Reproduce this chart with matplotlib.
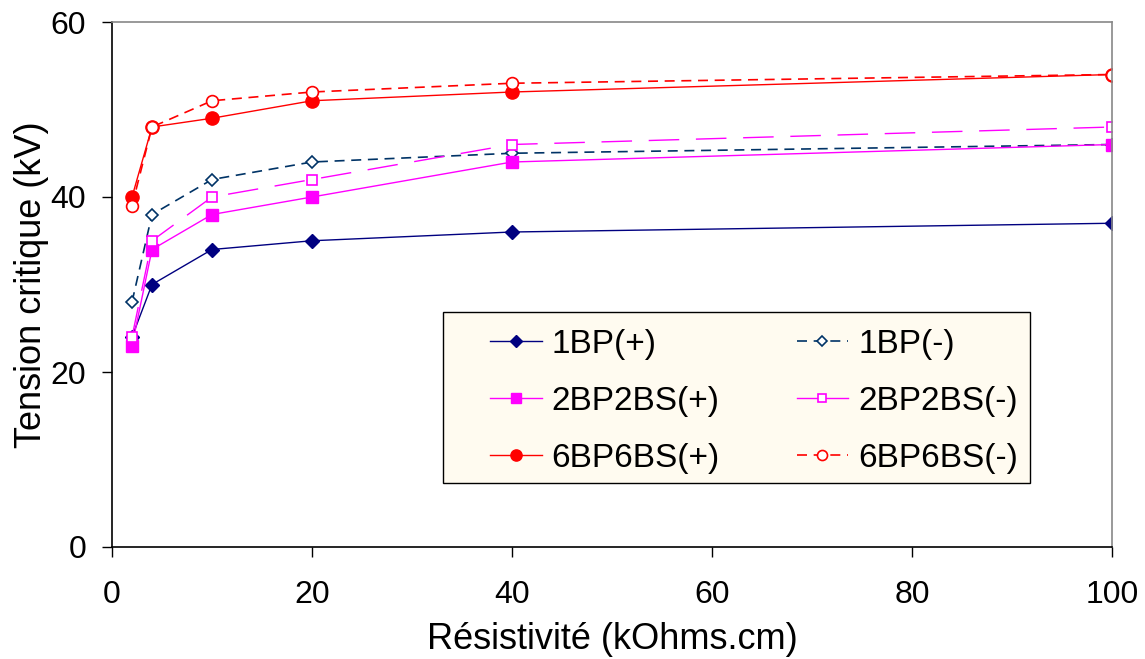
import matplotlib
matplotlib.use("Agg")
import matplotlib.pyplot as plt
from matplotlib.patches import Rectangle
from matplotlib.lines import Line2D

plt.rcParams['font.family'] = ['Liberation Sans', 'DejaVu Sans']

x = [2, 4, 10, 20, 40, 100]
bp1_pos = [24, 30, 34, 35, 36, 37]
bp1_neg = [28, 38, 42, 44, 45, 46]
bp2_pos = [23, 34, 38, 40, 44, 46]
bp2_neg = [24, 35, 40, 42, 46, 48]
bp6_pos = [40, 48, 49, 51, 52, 54]
bp6_neg = [39, 48, 51, 52, 53, 54]

labels = ['1BP(+)', '1BP(-)', '2BP2BS(+)', '2BP2BS(-)', '6BP6BS(+)', '6BP6BS(-)']
xticks = [0, 20, 40, 60, 80, 100]
yticks = [0, 20, 40, 60]

fig = plt.figure(figsize=(11.45, 6.59), dpi=100)
ax = fig.add_axes([112/1145, 112/659, 1000/1145, 525/659])

navy = '#000080'
dblue = '#003366'
mag = '#FF00FF'
red = '#FF0000'

h1, = ax.plot(x, bp1_pos, color=navy, lw=1, marker='D', ms=7.5, mfc=navy, mec=navy, label=labels[0])
h2, = ax.plot(x, bp1_neg, color=dblue, lw=1.2, ls=(0, (6, 4)), marker='D', ms=6.5, mfc='white', mec=dblue, mew=1.2, label=labels[1])
h3, = ax.plot(x, bp2_pos, color=mag, lw=1, marker='s', ms=8.5, mfc=mag, mec=mag, label=labels[2])
ax.plot(x, bp2_neg, color=mag, lw=1, ls=(0, (22, 12)), marker='s', ms=7.5, mfc='white', mec=mag, mew=1.2, label=labels[3])
h5, = ax.plot(x, bp6_pos, color=red, lw=1, marker='o', ms=9.5, mfc=red, mec=red, label=labels[4])
h6, = ax.plot(x, bp6_neg, color=red, lw=1.2, ls=(0, (6, 4)), marker='o', ms=8.5, mfc='white', mec=red, mew=1.2, label=labels[5])
h4 = Line2D([], [], color=mag, lw=1, ls='-', marker='s', ms=7.5, mfc='white', mec=mag, mew=1.2)

ax.set_xlim(0, 100)
ax.set_ylim(0, 60)
ax.set_xticks(xticks)
ax.set_yticks(yticks)
ax.tick_params(direction='out', length=7.5, width=1, labelsize=23)
ax.tick_params(axis='x', pad=16)
ax.tick_params(axis='y', pad=11)
ax.set_xlabel('Résistivité (kOhms.cm)', fontsize=26, labelpad=9)
ax.set_ylabel('Tension critique (kV)', fontsize=26, labelpad=1)
for s in ['left', 'bottom']:
    ax.spines[s].set_color('black')
    ax.spines[s].set_linewidth(1.2)
for s in ['top', 'right']:
    ax.spines[s].set_color('#888888')
    ax.spines[s].set_linewidth(1.2)

box = Rectangle((0.331, 0.122), 0.587, 0.326, transform=ax.transAxes,
                facecolor='#FFFBF0', edgecolor='black', lw=1, zorder=5)
ax.add_patch(box)

leg = ax.legend([h1, h3, h5, h2, h4, h6],
                [labels[0], labels[2], labels[4], labels[1], labels[3], labels[5]],
                ncol=2, loc='upper left', bbox_to_anchor=(0.378, 0.415),
                fontsize=24, frameon=False,
                handlelength=1.55, handletextpad=0.3, labelspacing=0.78,
                borderpad=0, columnspacing=2.3, markerscale=0.85, borderaxespad=0)
leg.set_zorder(6)

fig.savefig('out.png', dpi=100)
